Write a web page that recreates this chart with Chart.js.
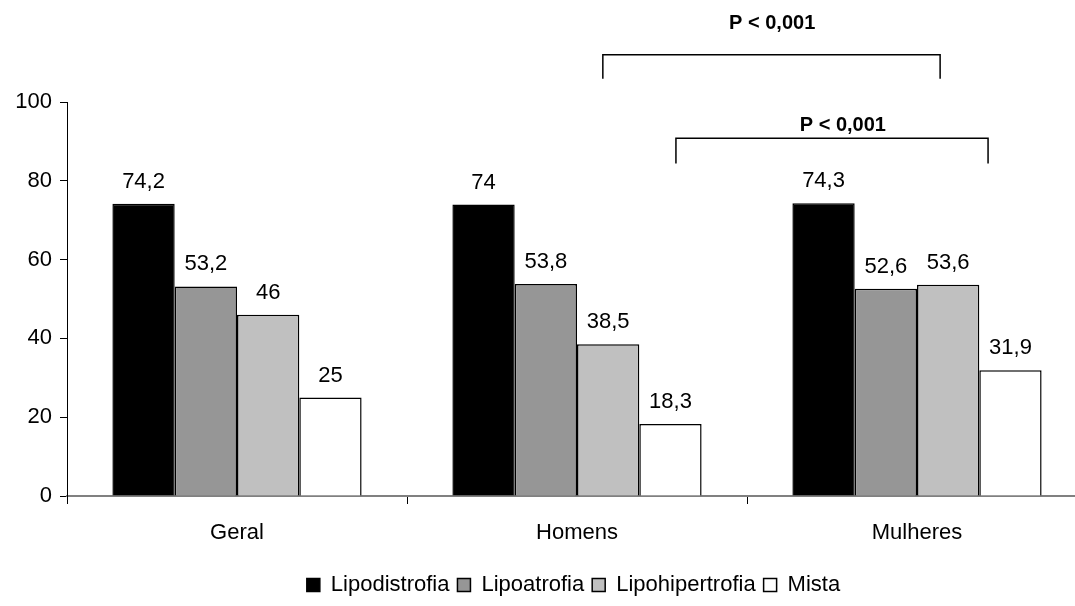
<!DOCTYPE html>
<html>
<head>
<meta charset="utf-8">
<script src="https://cdn.jsdelivr.net/npm/chart.js@4/dist/chart.umd.min.js"></script>
<style>
  html, body { margin: 0; padding: 0; background: #fff; overflow: hidden; }
  #wrap { width: 1075px; height: 606px; overflow: hidden; }
  canvas { display: block; }
</style>
</head>
<body>
<div id="wrap"><canvas id="c" width="1100" height="606"></canvas></div>
<script>
// Categories and series (percent)
const categories = ['Geral', 'Homens', 'Mulheres'];
const seriesNames = ['Lipodistrofia', 'Lipoatrofia', 'Lipohipertrofia', 'Mista'];
const lipodistrofia = [74.2, 74, 74.3];
const lipoatrofia = [53.2, 53.8, 52.6];
const lipohipertrofia = [46, 38.5, 53.6];
const mista = [25, 18.3, 31.9];
const yTicks = [0, 20, 40, 60, 80, 100];

// Significance brackets between groups (x in category units, y in axis units)
const brackets = [
  { from: 1.076, to: 2.068, top: 112, bottom: 105.9, text: 'P < 0,001', textX: 1.574, textY: 120 },
  { from: 1.291, to: 2.209, top: 90.8, bottom: 84.4, text: 'P < 0,001', textX: 1.782, textY: 94.1 }
];

const fills = ['#000000', '#969696', '#c0c0c0', '#ffffff'];
const FONT = 'Arial, "Liberation Sans", sans-serif';
const FS = 22;

const fmt = v => String(v).replace('.', ',');

const valueLabels = {
  id: 'valueLabels',
  afterDatasetsDraw(chart) {
    const ctx = chart.ctx;
    ctx.save();
    ctx.font = FS + 'px ' + FONT;
    ctx.fillStyle = '#000';
    ctx.textAlign = 'center';
    ctx.textBaseline = 'middle';
    chart.data.datasets.forEach((ds, di) => {
      const meta = chart.getDatasetMeta(di);
      meta.data.forEach((bar, i) => {
        ctx.fillText(fmt(ds.data[i]), bar.x, bar.y - 22);
      });
    });
    ctx.restore();
  }
};

const bracketPlugin = {
  id: 'brackets',
  afterDraw(chart) {
    const ctx = chart.ctx;
    const xs = chart.scales.x, ys = chart.scales.y;
    ctx.save();
    ctx.strokeStyle = '#000';
    ctx.lineWidth = 1.5;
    brackets.forEach(b => {
      const x1 = xs.getPixelForValue(b.from), x2 = xs.getPixelForValue(b.to);
      const yt = ys.getPixelForValue(b.top), yb = ys.getPixelForValue(b.bottom);
      ctx.beginPath();
      ctx.moveTo(x1, yb);
      ctx.lineTo(x1, yt);
      ctx.lineTo(x2, yt);
      ctx.lineTo(x2, yb);
      ctx.stroke();
      ctx.font = 'bold 20px ' + FONT;
      ctx.fillStyle = '#000';
      ctx.textAlign = 'center';
      ctx.textBaseline = 'middle';
      ctx.fillText(b.text, xs.getPixelForValue(b.textX), ys.getPixelForValue(b.textY));
    });
    ctx.restore();
  }
};

// Nudge the legend row to the right of the canvas centre
const legendShift = {
  id: 'legendShift',
  afterLayout(chart) {
    const lg = chart.legend;
    if (lg) { lg.left += 30; lg.right += 30; }
  }
};

const seriesData = [lipodistrofia, lipoatrofia, lipohipertrofia, mista];

new Chart(document.getElementById('c'), {
  type: 'bar',
  data: {
    labels: categories,
    datasets: seriesNames.map((name, i) => ({
      label: name,
      data: seriesData[i],
      backgroundColor: fills[i],
      borderColor: '#000',
      borderWidth: 1.5,
      categoryPercentage: 0.733,
      barPercentage: 1.0
    }))
  },
  options: {
    responsive: false,
    animation: false,
    layout: { padding: { top: 102, left: 0, right: 13, bottom: 0 } },
    plugins: {
      tooltip: { enabled: false },
      legend: {
        position: 'bottom',
        labels: {
          color: '#000',
          font: { family: FONT, size: FS },
          boxWidth: 13,
          boxHeight: 13,
          padding: 8
        }
      }
    },
    scales: {
      x: {
        grid: { display: true, offset: true, drawOnChartArea: false, drawTicks: true, tickLength: 8, color: '#000', lineWidth: 1 },
        border: { display: true, color: '#808080', width: 2 },
        ticks: { color: '#000', font: { family: FONT, size: FS }, padding: 16, maxRotation: 0 },
        afterFit(scale) { scale.height = 70; }
      },
      y: {
        min: 0,
        max: 100,
        afterBuildTicks(scale) { scale.ticks = yTicks.map(v => ({ value: v })); },
        grid: { display: true, drawOnChartArea: false, drawTicks: true, tickLength: 7, color: '#000', lineWidth: 1 },
        border: { display: true, color: '#000', width: 1 },
        ticks: { color: '#000', font: { family: FONT, size: FS }, padding: 8 },
        afterFit(scale) { scale.width = 67; }
      }
    }
  },
  plugins: [valueLabels, bracketPlugin, legendShift]
});
</script>
</body>
</html>
